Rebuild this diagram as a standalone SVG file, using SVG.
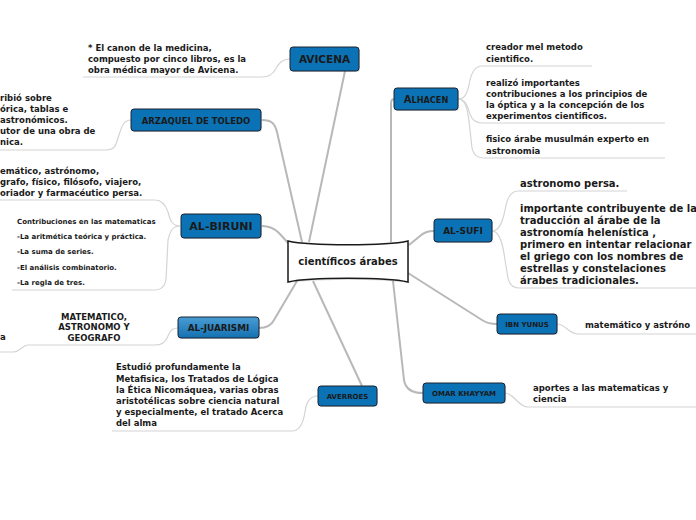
<svg xmlns="http://www.w3.org/2000/svg" width="696" height="520" viewBox="0 0 696 520">
<style>
text{font-family:"DejaVu Sans",Verdana,sans-serif;font-weight:bold;fill:#1a1a1a}
.main{fill:none;stroke:#b8b8b8;stroke-width:2}
.sub{fill:none;stroke:#d4d4d4;stroke-width:1.2}
.node{fill:#0b72b5;stroke:#1b2230;stroke-width:1}
.shadow{fill:#000;opacity:0.12}
.lbl{text-anchor:middle}
.t85{font-size:8.5px}
.t7{font-size:7px}
.t10{font-size:10px}
</style>
<defs>
<linearGradient id="gj" x1="0" y1="0" x2="0" y2="1">
<stop offset="0" stop-color="#4a9dd4"/>
<stop offset="1" stop-color="#1470b0"/>
</linearGradient>
</defs>
<rect width="696" height="520" fill="#fff"/>
<g id="connectors">
<path class="main" d="M345,71 L309,242"/>
<path class="main" d="M262,120 C272,120 275,124 277,132 L302,242"/>
<path class="main" d="M262,226 Q272,226 279,233 L289,244"/>
<path class="main" d="M259,328 Q270,328 274,320 L297,281"/>
<path class="main" d="M394,99 Q391,99 391,104 L391,242"/>
<path class="main" d="M434,231 Q425,231 420,236 L409,245"/>
<path class="main" d="M408,273 L482,320 Q488,324 497,324"/>
<path class="main" d="M393,281 L404,380 Q406,393 423,393"/>
<path class="main" d="M313,281 L362,386"/>
<path class="sub" d="M290,59 C280,59 278,66 275,70 Q271,77 262,77 L83,77"/>
<path class="sub" d="M131,120 C124,120 122,126 120,132 L116,144 Q114,150 106,150 L0,150"/>
<path class="sub" d="M180,226 C172,226 170,220 168,212 Q164,200 155,200 L0,200"/>
<path class="sub" d="M180,226 C172,226 170,232 168,240 L166,280 Q164,290 155,290 L12,290"/>
<path class="sub" d="M178,328 C170,328 169,334 167,338 Q164,345 155,345 L28,345 C22,345 21,352 12,352 L0,352"/>
<path class="sub" d="M458,99 C466,99 467,92 469,85 Q472,66 482,66 L592,66"/>
<path class="sub" d="M458,99 C466,99 468,108 470,114 Q473,123 482,123 L665,123"/>
<path class="sub" d="M458,99 C466,99 468,110 470,130 L472,148 Q474,158 484,158 L665,158"/>
<path class="sub" d="M492,231 C500,231 503,220 505,210 Q508,191 518,191 L627,191"/>
<path class="sub" d="M492,231 C500,231 503,245 505,260 L508,278 Q510,288 520,288 L696,288"/>
<path class="sub" d="M557,324 C566,324 568,334 578,334 L696,334"/>
<path class="sub" d="M505,393 C514,393 518,407 528,407 L696,407"/>
<path class="sub" d="M318,396 C308,396 306,405 305,412 Q302,431 292,431 L112,431"/>
</g>
<g id="center">
<path d="M289,243 C310,247 386,247 409,243 L409,283 C386,279 310,279 289,283 Z" class="shadow"/>
<path d="M288,241 C310,246 386,246 408,241 L408,282 C386,277 310,277 288,282 Z" fill="#fff" stroke="#1a1a1a" stroke-width="1.5"/>
<text x="348" y="265" class="lbl t10">científicos árabes</text>
</g>
<g id="avicena">
<rect x="291" y="48" width="69" height="24" rx="3" class="shadow"/>
<rect x="290" y="47" width="69" height="24" rx="3" class="node"/>
<text x="324.5" y="63" class="lbl" font-size="10.5">AVICENA</text>
<text x="88" y="51" class="t85">* El canon de la medicina,</text>
<text x="88" y="62" class="t85">compuesto por cinco libros, es la</text>
<text x="88" y="73" class="t85">obra médica mayor de Avicena.</text>
</g>
<g id="arzaquel">
<rect x="132" y="110" width="130" height="22" rx="3" class="shadow"/>
<rect x="131" y="109" width="130" height="22" rx="3" class="node"/>
<text x="196" y="123.5" class="lbl" font-size="8.5">ARZAQUEL DE TOLEDO</text>
<text x="0" y="101" class="t85">ribió sobre</text>
<text x="0" y="112" class="t85">órica, tablas e</text>
<text x="0" y="123" class="t85">astronómicos.</text>
<text x="0" y="134" class="t85">utor de una obra de</text>
<text x="0" y="145" class="t85">nica.</text>
</g>
<g id="albiruni">
<rect x="182" y="215" width="80" height="24" rx="3" class="shadow"/>
<rect x="181" y="214" width="80" height="24" rx="3" class="node"/>
<text x="221" y="230" class="lbl" font-size="11">AL-BIRUNI</text>
<text x="0" y="174" class="t85">emático, astrónomo,</text>
<text x="0" y="185" class="t85">grafo, físico, filósofo, viajero,</text>
<text x="0" y="196" class="t85">oriador y farmacéutico persa.</text>
<text x="17" y="224" class="t7">Contribuciones en las matematicas</text>
<text x="17" y="239" class="t7">-La aritmética teórica y práctica.</text>
<text x="17" y="254" class="t7">-La suma de series.</text>
<text x="17" y="270" class="t7">-El análisis combinatorio.</text>
<text x="17" y="285" class="t7">-La regla de tres.</text>
</g>
<g id="aljuarismi">
<rect x="179" y="318" width="81" height="21" rx="3" class="shadow"/>
<rect x="178" y="317" width="81" height="21" rx="3" fill="url(#gj)" stroke="#1b2230" stroke-width="1"/>
<text x="218.5" y="330.5" class="lbl" font-size="8.8">AL-JUARISMI</text>
<text x="94" y="320" class="lbl t85">MATEMATICO,</text>
<text x="94" y="330" class="lbl t85">ASTRONOMO Y</text>
<text x="94" y="341" class="lbl t85">GEOGRAFO</text>
<text x="0" y="340" class="t85">a</text>
</g>
<g id="alhacen">
<rect x="395" y="89" width="64" height="22" rx="3" class="shadow"/>
<rect x="394" y="88" width="64" height="22" rx="3" class="node"/>
<text x="426" y="103" class="lbl"><tspan font-size="10">A</tspan><tspan font-size="8.2">LHACEN</tspan></text>
<text x="486" y="50" class="t85">creador mel metodo</text>
<text x="486" y="62" class="t85">cientifico.</text>
<text x="486" y="86" class="t85">realizó importantes</text>
<text x="486" y="97" class="t85">contribuciones a los principios de</text>
<text x="486" y="108" class="t85">la óptica y a la concepción de los</text>
<text x="486" y="119" class="t85">experimentos cientificos.</text>
<text x="486" y="142" class="t85">fisico árabe musulmán experto en</text>
<text x="486" y="154" class="t85">astronomia</text>
</g>
<g id="alsufi">
<rect x="435" y="220" width="58" height="23" rx="3" class="shadow"/>
<rect x="434" y="219" width="58" height="23" rx="3" class="node"/>
<text x="463" y="234" class="lbl" font-size="9">AL-SUFI</text>
<text x="520" y="187" class="t10">astronomo persa.</text>
<text x="520" y="212" class="t10">importante contribuyente de la</text>
<text x="520" y="224" class="t10">traducción al árabe de la</text>
<text x="520" y="236" class="t10">astronomía helenística ,</text>
<text x="520" y="248" class="t10">primero en intentar relacionar</text>
<text x="520" y="260" class="t10">el griego con los nombres de</text>
<text x="520" y="272" class="t10">estrellas y constelaciones</text>
<text x="520" y="284" class="t10">árabes tradicionales.</text>
</g>
<g id="ibnyunus">
<rect x="498" y="315" width="60" height="20" rx="3" class="shadow"/>
<rect x="497" y="314" width="60" height="20" rx="3" class="node"/>
<text x="527" y="326.5" class="lbl t7">IBN YUNUS</text>
<text x="585" y="328" class="t85">matemático y astróno</text>
</g>
<g id="omarkhayyam">
<rect x="424" y="384" width="82" height="20" rx="3" class="shadow"/>
<rect x="423" y="383" width="82" height="20" rx="3" class="node"/>
<text x="464" y="395.5" class="lbl t7">OMAR KHAYYAM</text>
<text x="533" y="391" class="t85">aportes a las matematicas y</text>
<text x="533" y="402" class="t85">ciencia</text>
</g>
<g id="averroes">
<rect x="319" y="387" width="59" height="20" rx="3" class="shadow"/>
<rect x="318" y="386" width="59" height="20" rx="3" class="node"/>
<text x="347.5" y="398.5" class="lbl t7">AVERROES</text>
<text x="116" y="370" class="t85">Estudió profundamente la</text>
<text x="116" y="382" class="t85">Metafisica, los Tratados de Lógica</text>
<text x="116" y="393" class="t85">la Ética Nicomáquea, varias obras</text>
<text x="116" y="404" class="t85">aristotélicas sobre ciencia natural</text>
<text x="116" y="415" class="t85">y especialmente, el tratado Acerca</text>
<text x="116" y="426" class="t85">del alma</text>
</g>
</svg>
